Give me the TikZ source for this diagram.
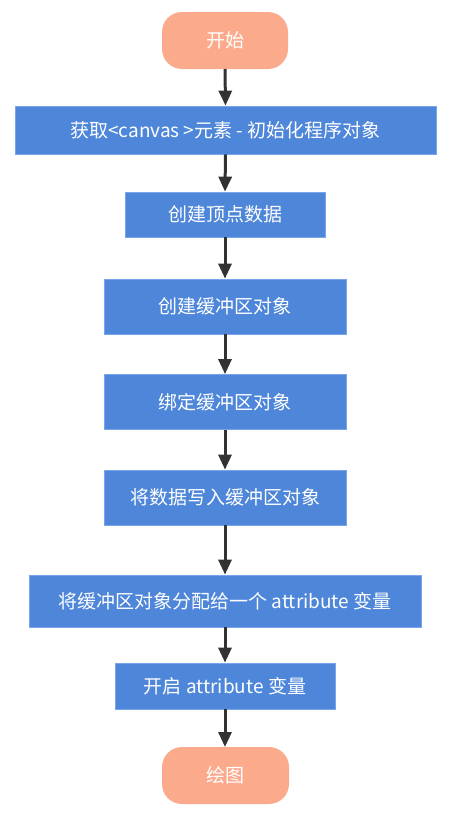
\documentclass[tikz,border=0pt]{standalone}
\usepackage{fontspec}
\setmainfont{Noto Sans CJK SC}
\usetikzlibrary{arrows.meta}
\definecolor{stepblue}{RGB}{78,134,217}
\definecolor{stepedge}{RGB}{120,165,235}
\definecolor{termfill}{RGB}{252,170,140}
\definecolor{arrowgray}{RGB}{50,50,50}
\begin{document}
\begin{tikzpicture}[x=1pt,y=-1pt,
  every node/.style={font=\fontsize{19}{21}\selectfont, text=white, inner sep=0pt},
  stepbox/.style={draw=stepedge, line width=0.8pt, fill=stepblue},
  termbox/.style={draw=none, fill=termfill, rounded corners=20pt},
  flow/.style={draw=arrowgray, line width=3pt, -{Triangle[length=15pt,width=13pt]}, shorten >=0pt}]
\useasboundingbox (0,0) rectangle (467,822);
\path[termbox] (162,12) rectangle (288,69);
\node (start) at (225,40.5) {开始};
\coordinate (startS) at (225,69);
\node[stepbox, minimum width=421pt, minimum height=48pt] (b1) at (225.5,130) {获取<canvas >元素 - 初始化程序对象};
\node[stepbox, minimum width=200pt, minimum height=45pt] (b2) at (225,214.5) {创建顶点数据};
\node[stepbox, minimum width=242pt, minimum height=55pt] (b3) at (225,306.5) {创建缓冲区对象};
\node[stepbox, minimum width=242pt, minimum height=55pt] (b4) at (225,402) {绑定缓冲区对象};
\node[stepbox, minimum width=242pt, minimum height=55pt] (b5) at (225,497.5) {将数据写入缓冲区对象};
\node[stepbox, minimum width=392pt, minimum height=52pt] (b6) at (225,601) {将缓冲区对象分配给一个 attribute 变量};
\node[stepbox, minimum width=220pt, minimum height=46pt] (b7) at (225,686) {开启 attribute 变量};
\path[termbox] (162,747) rectangle (289,804);
\node (end) at (225.5,775.5) {绘图};
\coordinate (endN) at (225,747);
\draw[flow] (startS) -- (b1.north);
\draw[flow] (b1.south) -- (b2.north);
\draw[flow] (b2.south) -- (b3.north);
\draw[flow] (b3.south) -- (b4.north);
\draw[flow] (b4.south) -- (b5.north);
\draw[flow] (b5.south) -- (b6.north);
\draw[flow] (b6.south) -- (b7.north);
\draw[flow] (b7.south) -- (endN);
\end{tikzpicture}
\end{document}
